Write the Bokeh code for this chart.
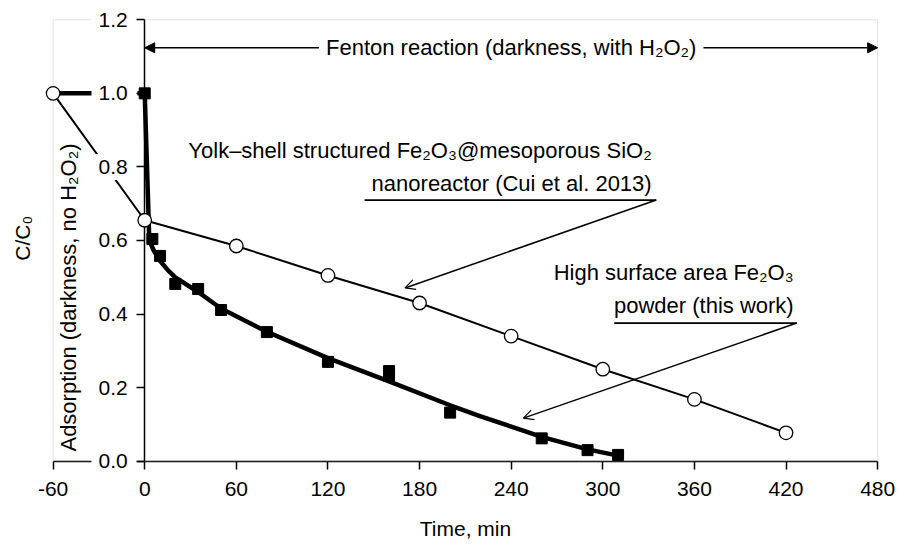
import numpy as np
from bokeh.plotting import figure
from bokeh.models import (Range1d, FixedTicker, Label, Arrow, NormalHead, OpenHead,
                          BoxAnnotation, LinearAxis)
from bokeh.embed import file_html
from bokeh.resources import INLINE

FONT = "Liberation Sans"

# ---------------- data ----------------
cui_time = [-60, 0, 60, 120, 180, 240, 300, 360, 420]
cui_c = [1.0, 0.655, 0.585, 0.505, 0.43, 0.34, 0.25, 0.168, 0.077]

this_time = [0, 5, 10, 20, 35, 50, 80, 120, 160, 160, 200, 260, 290, 310]
this_c = [1.0, 0.604, 0.558, 0.482, 0.468, 0.411, 0.351, 0.270, 0.245, 0.232,
          0.132, 0.062, 0.030, 0.017]

# fitted curve through "this work" points
fit_time = [-60, 0, 3, 6, 10, 15, 20, 35, 50, 80, 120, 160, 200, 220, 240, 260, 290, 310]
fit_c = [1.0, 1.0, 0.600, 0.572, 0.545, 0.520, 0.500, 0.460, 0.415, 0.352, 0.280,
         0.217, 0.152, 0.122, 0.094, 0.066, 0.032, 0.015]

x_ticks = [-60, 0, 60, 120, 180, 240, 300, 360, 420, 480]
x_tick_labels = ["-60", "0", "60", "120", "180", "240", "300", "360", "420", "480"]
y_ticks = [0.0, 0.2, 0.4, 0.6, 0.8, 1.0, 1.2]
y_tick_labels = ["0.0", "0.2", "0.4", "0.6", "0.8", "1.0", "1.2"]

x_title = "Time, min"
y_title = "C/C\u2080"
adsorption_text = "Adsorption (darkness, no H\u2082O\u2082)"
fenton_text = "Fenton reaction (darkness, with H\u2082O\u2082)"
cui_text = ["Yolk\u2013shell structured Fe\u2082O\u2083@mesoporous SiO\u2082",
            "nanoreactor (Cui et al. 2013)"]
this_text = ["High surface area Fe\u2082O\u2083", "powder (this work)"]

# ---------------- layout / annotation anchors (data units) ----------------
# the frame covers the whole canvas so that axes drawn at fixed locations are not cut
X_VIEW = (-94.45, 493.65)
Y_VIEW = (-0.232, 1.2525)
Y_TITLE_XY = (-80.0, 0.606)
FENTON_Y = 1.124
ADS_XY = (-50, 0.445)
CUI_TEXT_X = 332
CUI_TEXT_Y = [0.846, 0.754]
CUI_UNDERLINE = (144, 335, 0.71)
CUI_TIP = (170.5, 0.471)
THIS_TEXT_X = 425
THIS_TEXT_Y = [0.512, 0.422]
THIS_UNDERLINE = (307.5, 427, 0.3755)
THIS_TIP = (248, 0.117)
TICK_BOX_X = -19.8   # centre of white boxes behind the y tick labels

p = figure(width=898, height=546, x_range=Range1d(*X_VIEW), y_range=Range1d(*Y_VIEW),
           output_backend="svg", toolbar_location=None, title=None,
           x_axis_location=None, y_axis_location=None,
           min_border_left=0, min_border_right=0, min_border_top=0, min_border_bottom=0,
           background_fill_color="white", border_fill_color="white")
p.outline_line_color = None
p.xgrid.visible = False
p.ygrid.visible = False

# grey plot-area border
p.add_layout(BoxAnnotation(left=x_ticks[0], right=x_ticks[-1], bottom=y_ticks[0], top=y_ticks[-1],
                           fill_color=None, line_color="#9a9a9a", line_width=1, level="underlay"))

# time axis along C = 0 (drawn under everything)
xax = LinearAxis(fixed_location=0, bounds=(x_ticks[0], x_ticks[-1]), level="underlay",
                 ticker=FixedTicker(ticks=x_ticks, minor_ticks=[]),
                 major_label_overrides={t: lab for t, lab in zip(x_ticks, x_tick_labels)},
                 axis_line_color="black", axis_line_width=1.5,
                 major_tick_line_color="black", major_tick_line_width=1.5,
                 major_tick_out=8, major_tick_in=0, minor_tick_out=0, minor_tick_in=0,
                 major_label_standoff=13, major_label_text_font=FONT,
                 major_label_text_font_size="21px", major_label_text_color="black",
                 axis_label=x_title, axis_label_standoff=17, axis_label_text_font=FONT,
                 axis_label_text_font_size="21px", axis_label_text_font_style="normal",
                 axis_label_text_color="black")
p.add_layout(xax, "below")

# C axis along t = 0: line underneath the data, ticks and labels on top
y_line_ax = LinearAxis(fixed_location=0, bounds=(y_ticks[0], y_ticks[-1]), level="underlay",
                       ticker=FixedTicker(ticks=[], minor_ticks=[]),
                       axis_line_color="black", axis_line_width=1.5,
                       major_tick_out=0, major_tick_in=0, minor_tick_out=0, minor_tick_in=0)
p.add_layout(y_line_ax, "left")
y_ax = LinearAxis(fixed_location=0, bounds=(y_ticks[0], y_ticks[-1]),
                  ticker=FixedTicker(ticks=y_ticks, minor_ticks=[]),
                  major_label_overrides={v: s for v, s in zip(y_ticks, y_tick_labels)},
                  axis_line_color=None,
                  major_tick_line_color="black", major_tick_line_width=1.5,
                  major_tick_out=8, major_tick_in=0, minor_tick_out=0, minor_tick_in=0,
                  major_label_standoff=9, major_label_text_font=FONT,
                  major_label_text_font_size="21px", major_label_text_color="black")
p.add_layout(y_ax, "left")

# data
p.line(fit_time, fit_c, line_color="black", line_width=4.5, line_join="round")
p.scatter(this_time, this_c, marker="square", size=11, fill_color="black", line_color="black")
p.line(cui_time, cui_c, line_color="black", line_width=2)
p.scatter(cui_time, cui_c, marker="circle", size=13.5, fill_color="white", line_color="black",
          line_width=1.3)

# white boxes behind the y tick labels (labels themselves drawn by the axis on top)
p.rect(x=[TICK_BOX_X] * len(y_ticks), y=y_ticks, width=46, height=26,
       width_units="screen", height_units="screen", fill_color="white", line_color=None)

# y title
p.add_layout(Label(x=Y_TITLE_XY[0], y=Y_TITLE_XY[1], text=y_title, angle=90, angle_units="deg",
                   text_align="center", text_baseline="middle", text_font=FONT,
                   text_font_size="21px", text_color="black"))

# Fenton arrow
p.add_layout(Arrow(x_start=0, y_start=FENTON_Y, x_end=480, y_end=FENTON_Y,
                   start=NormalHead(size=10, fill_color="black", line_color="black"),
                   end=NormalHead(size=10, fill_color="black", line_color="black"),
                   line_color="black", line_width=1.5))
p.add_layout(Label(x=240, y=FENTON_Y, text=fenton_text, text_align="center",
                   text_baseline="middle", text_font=FONT, text_font_size="22px",
                   text_color="black", background_fill_color="white", padding=7))

# adsorption vertical label
p.add_layout(Label(x=ADS_XY[0], y=ADS_XY[1], text=adsorption_text, angle=90, angle_units="deg",
                   text_align="center", text_baseline="middle", text_font=FONT,
                   text_font_size="22px", text_color="black"))

# Cui annotation
for txt, yv in zip(cui_text, CUI_TEXT_Y):
    p.add_layout(Label(x=CUI_TEXT_X, y=yv, text=txt, text_align="right", text_baseline="middle",
                       text_font=FONT, text_font_size="22px", text_color="black"))
p.add_layout(Arrow(x_start=CUI_UNDERLINE[0], y_start=CUI_UNDERLINE[2], x_end=CUI_UNDERLINE[1],
                   y_end=CUI_UNDERLINE[2], end=None, line_color="black", line_width=1.8))
p.add_layout(Arrow(x_start=CUI_UNDERLINE[1], y_start=CUI_UNDERLINE[2], x_end=CUI_TIP[0],
                   y_end=CUI_TIP[1], end=OpenHead(size=10, line_width=1.2, line_color="black"),
                   line_color="black", line_width=1.5))

# this work annotation
for txt, yv in zip(this_text, THIS_TEXT_Y):
    p.add_layout(Label(x=THIS_TEXT_X, y=yv, text=txt, text_align="right", text_baseline="middle",
                       text_font=FONT, text_font_size="22px", text_color="black"))
p.add_layout(Arrow(x_start=THIS_UNDERLINE[0], y_start=THIS_UNDERLINE[2], x_end=THIS_UNDERLINE[1],
                   y_end=THIS_UNDERLINE[2], end=None, line_color="black", line_width=1.8))
p.add_layout(Arrow(x_start=THIS_UNDERLINE[1], y_start=THIS_UNDERLINE[2], x_end=THIS_TIP[0],
                   y_end=THIS_TIP[1], end=OpenHead(size=10, line_width=1.2, line_color="black"),
                   line_color="black", line_width=1.5))

open("out.html", "w").write(file_html(p, INLINE))
